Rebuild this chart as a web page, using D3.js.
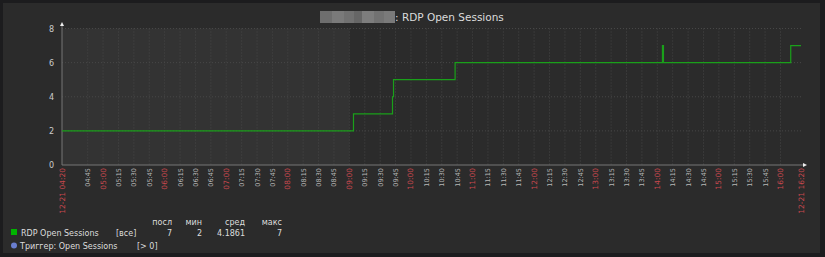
<!DOCTYPE html>
<html>
<head>
<meta charset="utf-8">
<script src="https://cdn.jsdelivr.net/npm/d3@7"></script>
<style>
  html, body { margin: 0; padding: 0; background: #1c1c1e; }
  svg { display: block; font-family: "DejaVu Sans", sans-serif; }
</style>
</head>
<body>
<script>
const WIDTH = 825;
const HEIGHT = 257;

// series: time of change -> value (step after)
var times = ['04:20', '09:04', '09:42', '09:43', '10:43', '14:05', '14:06', '16:10', '16:20'];
var values = [2, 3, 4, 5, 6, 7, 6, 7, 7];
var yTicks = [0, 2, 4, 6, 8];
var startLabel = '12-21 04:20';
var endLabel = '12-21 16:20';
var workStart = '09:00';
var legendHead = ['посл', 'мин', 'сред', 'макс'];
var legendVals = ['7', '2', '4.1861', '7'];

var parse = d3.timeParse('%H:%M');
var t0 = parse('04:20'), t1 = parse('16:20');

var x = d3.scaleTime().domain([t0, t1]).range([62, 801]);
var y = d3.scaleLinear().domain([0, 8]).range([165, 28.5]);

var svg = d3.select('body').append('svg')
    .attr('width', WIDTH)
    .attr('height', HEIGHT);

svg.append('rect')
    .attr('x', 3).attr('y', 3)
    .attr('width', 817).attr('height', 250)
    .attr('fill', '#2b2b2b');

// non-working time shading
svg.append('rect')
    .attr('x', x(t0)).attr('y', y(8))
    .attr('width', x(parse(workStart)) - x(t0))
    .attr('height', y(0) - y(8))
    .attr('fill', '#333333');

// title (host name blurred)
var blur = [['#6e6e6e', 320, 12], ['#7a7a7a', 332, 12], ['#717171', 344, 10], ['#666666', 354, 8], ['#7d7d7d', 362, 12], ['#727272', 374, 10], ['#7a7a7a', 384, 11]];
svg.selectAll('rect.blur').data(blur).enter().append('rect')
    .attr('class', 'blur')
    .attr('x', function(d) { return d[1]; })
    .attr('y', 11)
    .attr('width', function(d) { return d[2]; })
    .attr('height', 12)
    .attr('fill', function(d) { return d[0]; });
svg.append('text')
    .attr('x', 395).attr('y', 20.5)
    .attr('fill', '#dcdcdc')
    .attr('font-size', 10.5)
    .text(': RDP Open Sessions');

// grid
var ticks = d3.timeMinute.every(15).range(parse('04:45'), parse('16:01'));
svg.append('g').selectAll('line').data(ticks).enter().append('line')
    .attr('x1', function(d) { return x(d); })
    .attr('x2', function(d) { return x(d); })
    .attr('y1', y(8)).attr('y2', y(0))
    .attr('stroke', '#474747')
    .attr('stroke-dasharray', '1,2');
svg.append('g').selectAll('line').data(yTicks.slice(1)).enter().append('line')
    .attr('x1', x(t0)).attr('x2', x(t1))
    .attr('y1', function(d) { return y(d); })
    .attr('y2', function(d) { return y(d); })
    .attr('stroke', '#474747')
    .attr('stroke-dasharray', '1,2');

// axes
svg.append('line')
    .attr('x1', x(t0)).attr('x2', x(t0))
    .attr('y1', 25).attr('y2', y(0))
    .attr('stroke', '#777');
svg.append('line')
    .attr('x1', x(t0)).attr('x2', 804)
    .attr('y1', y(0)).attr('y2', y(0))
    .attr('stroke', '#777');
svg.append('path').attr('d', 'M60,26 L64,26 L62,22 Z').attr('fill', '#eee');
svg.append('path').attr('d', 'M803,163 L803,167 L807,165 Z').attr('fill', '#eee');

svg.append('g').selectAll('text').data(yTicks).enter().append('text')
    .attr('x', 54)
    .attr('y', function(d) { return y(d) + 3; })
    .attr('text-anchor', 'end')
    .attr('fill', '#cccccc')
    .attr('font-size', 8)
    .text(function(d) { return d; });

var fmt = d3.timeFormat('%H:%M');
var labels = ticks.map(function(d) {
    return {t: d, text: fmt(d), major: d.getMinutes() === 0};
});
labels.unshift({t: t0, text: startLabel, major: true});
labels.push({t: t1, text: endLabel, major: true});

svg.append('g').selectAll('text').data(labels).enter().append('text')
    .attr('transform', function(d) { return 'translate(' + (x(d.t) + 2.5) + ',168) rotate(-90)'; })
    .attr('text-anchor', 'end')
    .attr('fill', function(d) { return d.major ? '#c8484e' : '#b8b8b8'; })
    .attr('font-size', function(d) { return d.major ? 7.5 : 6.5; })
    .text(function(d) { return d.text; });

// series
var series = times.map(function(t, i) { return {t: parse(t), v: values[i]}; });
var line = d3.line()
    .x(function(d) { return x(d.t); })
    .y(function(d) { return y(d.v); })
    .curve(d3.curveStepAfter);
svg.append('path')
    .datum(series)
    .attr('d', line)
    .attr('fill', 'none')
    .attr('stroke', '#1aa01a')
    .attr('stroke-width', 1.2);

// legend
var lg = svg.append('g').attr('font-size', 8).attr('fill', '#dddddd');
var colRight = [172, 202, 245, 282];
lg.selectAll('text.h').data(legendHead).enter().append('text')
    .attr('class', 'h')
    .attr('x', function(d, i) { return colRight[i]; })
    .attr('y', 225)
    .attr('text-anchor', 'end')
    .text(function(d) { return d; });
lg.selectAll('text.v').data(legendVals).enter().append('text')
    .attr('class', 'v')
    .attr('x', function(d, i) { return colRight[i]; })
    .attr('y', 236)
    .attr('text-anchor', 'end')
    .text(function(d) { return d; });
lg.append('rect').attr('x', 11).attr('y', 229).attr('width', 6).attr('height', 6).attr('fill', '#00b300');
lg.append('text').attr('x', 21).attr('y', 236).text('RDP Open Sessions');
lg.append('text').attr('x', 116).attr('y', 236).text('[все]');
lg.append('circle').attr('cx', 14).attr('cy', 245.5).attr('r', 3).attr('fill', '#6a7ed0');
lg.append('text').attr('x', 20).attr('y', 249).text('Триггер: Open Sessions');
lg.append('text').attr('x', 137).attr('y', 249).text('[> 0]');
</script>
</body>
</html>
